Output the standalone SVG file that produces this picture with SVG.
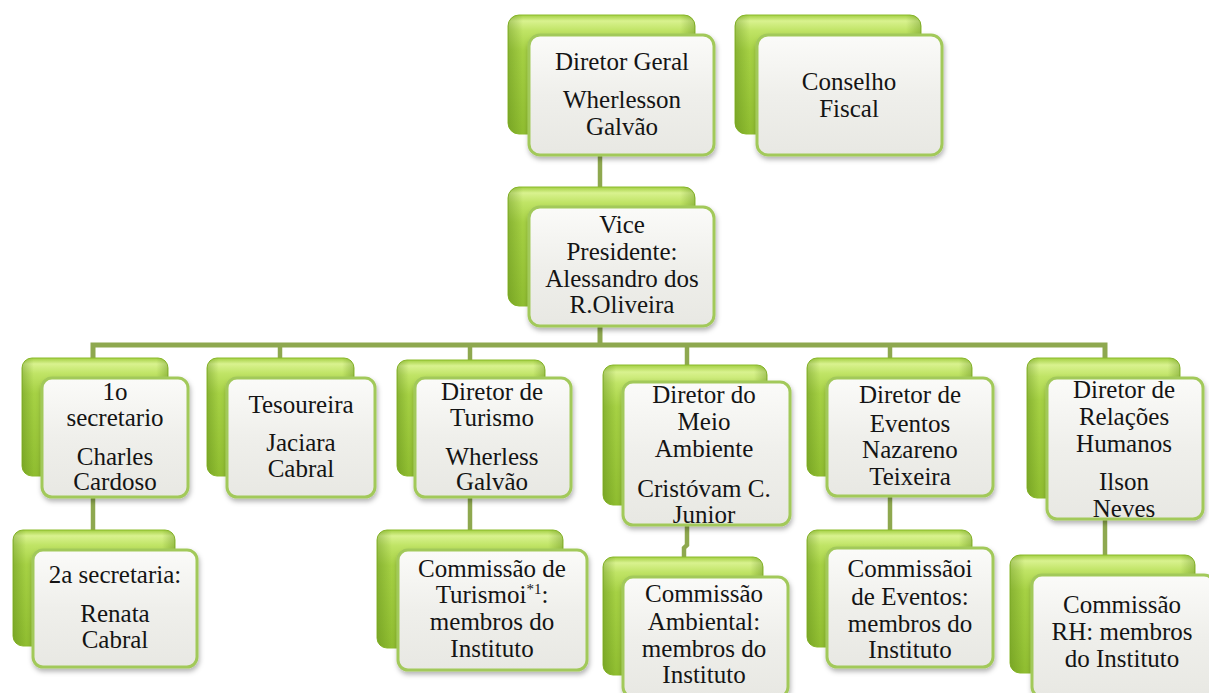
<svg xmlns="http://www.w3.org/2000/svg" width="1209" height="693" viewBox="0 0 1209 693">
<defs>
<linearGradient id="gGreen" x1="0" y1="0" x2="0" y2="1">
<stop offset="0" stop-color="#a3cf42"/>
<stop offset="0.05" stop-color="#d9f28f"/>
<stop offset="0.13" stop-color="#c0e466"/>
<stop offset="0.3" stop-color="#a6d144"/>
<stop offset="1" stop-color="#8fbd30"/>
</linearGradient>
<linearGradient id="gEdge" x1="0" y1="0" x2="1" y2="0">
<stop offset="0" stop-color="#4f7a10" stop-opacity="0.35"/>
<stop offset="0.08" stop-color="#4f7a10" stop-opacity="0"/>
<stop offset="0.92" stop-color="#4f7a10" stop-opacity="0"/>
<stop offset="1" stop-color="#4f7a10" stop-opacity="0.35"/>
</linearGradient>
<linearGradient id="gWhite" x1="0" y1="0" x2="0" y2="1">
<stop offset="0" stop-color="#fbfbf9"/>
<stop offset="0.5" stop-color="#efefeb"/>
<stop offset="1" stop-color="#e8e8e3"/>
</linearGradient>
<filter id="sh" x="-10%" y="-10%" width="125%" height="130%">
<feDropShadow dx="1" dy="3" stdDeviation="2.5" flood-color="#000" flood-opacity="0.3"/>
</filter>
</defs>
<style>
.back{fill:url(#gGreen);stroke:#8cbb2c;stroke-width:1}
.edge{fill:url(#gEdge)}
.front{fill:url(#gWhite);stroke:#a2c95a;stroke-width:3;filter:url(#sh)}
.conn{fill:none;stroke:#8ea84f;stroke-width:5}
.drop{fill:none;stroke:#8ea84f;stroke-width:4.5}
</style>
<g id="connectors">
<path class="drop" d="M600,140 V195"/>
<path class="conn" d="M600,320 V347"/>
<path class="conn" d="M93,360 V345 H1105 V360"/>
<path class="drop" d="M280,345 V360"/>
<path class="drop" d="M470,345 V362"/>
<path class="drop" d="M687,345 V367"/>
<path class="drop" d="M890,345 V360"/>
<path class="drop" d="M93,495 V532"/>
<path class="drop" d="M470,495 V532"/>
<path class="drop" d="M687,520 V545 L684,548 V559"/>
<path class="drop" d="M890,493 V532"/>
<path class="drop" d="M1105,515 V557"/>
</g>
<g id="nodes" font-family="Liberation Serif, serif" font-size="25" fill="#141414" text-anchor="middle">
<g id="diretor-geral">
<rect class="back" x="508" y="15" width="187" height="119" rx="11"/>
<rect class="edge" x="508" y="15" width="187" height="119" rx="11"/>
<rect class="front" x="529" y="35" width="185" height="120" rx="11"/>
<text x="622" y="70">Diretor Geral</text>
<text x="622" y="108">Wherlesson</text>
<text x="622" y="135">Galvão</text>
</g>
<g id="conselho-fiscal">
<rect class="back" x="735" y="15" width="186" height="119" rx="11"/>
<rect class="edge" x="735" y="15" width="186" height="119" rx="11"/>
<rect class="front" x="757" y="35" width="185" height="120" rx="11"/>
<text x="849" y="90">Conselho</text>
<text x="849" y="117">Fiscal</text>
</g>
<g id="vice-presidente">
<rect class="back" x="508" y="187" width="187" height="119" rx="11"/>
<rect class="edge" x="508" y="187" width="187" height="119" rx="11"/>
<rect class="front" x="529" y="207" width="185" height="119" rx="11"/>
<text x="622" y="233">Vice</text>
<text x="622" y="260">Presidente:</text>
<text x="622" y="287">Alessandro dos</text>
<text x="622" y="313">R.Oliveira</text>
</g>
<g id="secretario1">
<rect class="back" x="22" y="358" width="146" height="118" rx="10"/>
<rect class="edge" x="22" y="358" width="146" height="118" rx="10"/>
<rect class="front" x="42" y="378" width="146" height="119" rx="10"/>
<text x="115" y="400">1o</text>
<text x="115" y="426">secretario</text>
<text x="115" y="465">Charles</text>
<text x="115" y="490">Cardoso</text>
</g>
<g id="tesoureira">
<rect class="back" x="207" y="358" width="147" height="118" rx="10"/>
<rect class="edge" x="207" y="358" width="147" height="118" rx="10"/>
<rect class="front" x="227" y="378" width="148" height="119" rx="10"/>
<text x="301" y="413">Tesoureira</text>
<text x="301" y="451">Jaciara</text>
<text x="301" y="477">Cabral</text>
</g>
<g id="diretor-turismo">
<rect class="back" x="397" y="360" width="148" height="116" rx="10"/>
<rect class="edge" x="397" y="360" width="148" height="116" rx="10"/>
<rect class="front" x="415" y="378" width="156" height="119" rx="10"/>
<text x="492" y="400">Diretor de</text>
<text x="492" y="426">Turismo</text>
<text x="492" y="465">Wherless</text>
<text x="492" y="490">Galvão</text>
</g>
<g id="diretor-meio-ambiente">
<rect class="back" x="603" y="365" width="164" height="140" rx="10"/>
<rect class="edge" x="603" y="365" width="164" height="140" rx="10"/>
<rect class="front" x="623" y="382" width="167" height="143" rx="10"/>
<text x="704" y="403">Diretor do</text>
<text x="704" y="430">Meio</text>
<text x="704" y="457">Ambiente</text>
<text x="704" y="497">Cristóvam C.</text>
<text x="704" y="523">Junior</text>
</g>
<g id="diretor-eventos">
<rect class="back" x="807" y="358" width="165" height="118" rx="10"/>
<rect class="edge" x="807" y="358" width="165" height="118" rx="10"/>
<rect class="front" x="827" y="378" width="166" height="118" rx="10"/>
<text x="910" y="403">Diretor de</text>
<text x="910" y="432">Eventos</text>
<text x="910" y="458">Nazareno</text>
<text x="910" y="485">Teixeira</text>
</g>
<g id="diretor-rh">
<rect class="back" x="1027" y="358" width="153" height="140" rx="10"/>
<rect class="edge" x="1027" y="358" width="153" height="140" rx="10"/>
<rect class="front" x="1047" y="378" width="156" height="141" rx="10"/>
<text x="1124" y="398">Diretor de</text>
<text x="1124" y="425">Relações</text>
<text x="1124" y="452">Humanos</text>
<text x="1124" y="490">Ilson</text>
<text x="1124" y="517">Neves</text>
</g>
<g id="secretaria2">
<rect class="back" x="13" y="530" width="162" height="116" rx="10"/>
<rect class="edge" x="13" y="530" width="162" height="116" rx="10"/>
<rect class="front" x="33" y="550" width="164" height="117" rx="10"/>
<text x="115" y="583">2a secretaria:</text>
<text x="115" y="622">Renata</text>
<text x="115" y="648">Cabral</text>
</g>
<g id="comissao-turismo">
<rect class="back" x="377" y="530" width="186" height="118" rx="10"/>
<rect class="edge" x="377" y="530" width="186" height="118" rx="10"/>
<rect class="front" x="398" y="550" width="189" height="120" rx="10"/>
<text x="492" y="577">Commissão de</text>
<text x="492" y="603">Turismoi<tspan font-size="15" dy="-9">*1</tspan><tspan dy="9">:</tspan></text>
<text x="492" y="630">membros do</text>
<text x="492" y="657">Instituto</text>
</g>
<g id="comissao-ambiental">
<rect class="back" x="603" y="557" width="160" height="118" rx="10"/>
<rect class="edge" x="603" y="557" width="160" height="118" rx="10"/>
<rect class="front" x="623" y="577" width="165" height="120" rx="10"/>
<text x="704" y="602">Commissão</text>
<text x="704" y="630">Ambiental:</text>
<text x="704" y="657">membros do</text>
<text x="704" y="683">Instituto</text>
</g>
<g id="comissao-eventos">
<rect class="back" x="807" y="530" width="165" height="117" rx="10"/>
<rect class="edge" x="807" y="530" width="165" height="117" rx="10"/>
<rect class="front" x="827" y="548" width="166" height="119" rx="10"/>
<text x="910" y="577">Commissãoi</text>
<text x="910" y="605">de Eventos:</text>
<text x="910" y="632">membros do</text>
<text x="910" y="658">Instituto</text>
</g>
<g id="comissao-rh">
<rect class="back" x="1010" y="555" width="185" height="118" rx="10"/>
<rect class="edge" x="1010" y="555" width="185" height="118" rx="10"/>
<rect class="front" x="1032" y="575" width="182" height="122" rx="10"/>
<text x="1122" y="613">Commissão</text>
<text x="1122" y="640">RH: membros</text>
<text x="1122" y="667">do Instituto</text>
</g>
</g>
</svg>
